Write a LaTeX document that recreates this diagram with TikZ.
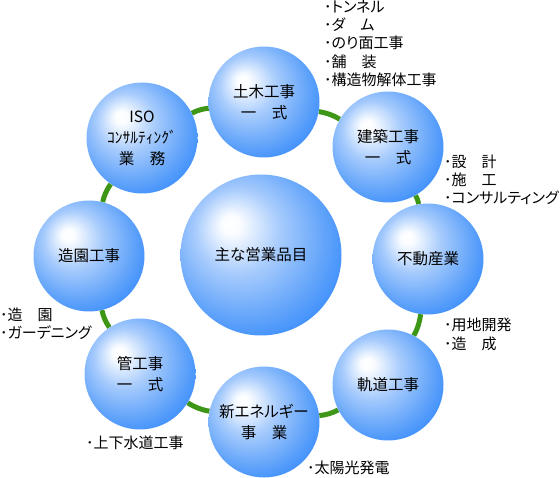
\documentclass[tikz,border=0pt]{standalone}
\usepackage{fontspec}
\setmainfont{Noto Sans CJK JP}[RawFeature=+palt]
\usepackage{xcolor}
\usepackage{tikz}
\usetikzlibrary{backgrounds}
\definecolor{ringgreen}{RGB}{62,150,22}
\pgfdeclareradialshading{bluesphere}{\pgfpoint{-10bp}{10bp}}{%
  rgb(0bp)=(1,1,1); rgb(3bp)=(0.98,0.99,1); rgb(13bp)=(0.66,0.8,0.99);
  rgb(25bp)=(0.38,0.64,0.98); rgb(38bp)=(0.1,0.48,1); rgb(50bp)=(0.1,0.48,1)}
\tikzset{
  bubble/.style={circle,shading=bluesphere,minimum size=111,inner sep=0,
    align=center,font=\fontsize{15.5}{21}\selectfont},
  hub/.style={bubble,minimum size=161},
  ring/.style={ringgreen,line width=5},
  note/.style={anchor=west,inner sep=0,align=left,
    font=\fontsize{15}{18.3}\selectfont}
}
\begin{document}
\begin{tikzpicture}[x=1pt,y=-1pt]
  \useasboundingbox (0,0) rectangle (560,478);
  \node[hub] (main) at (261,255) {主な営業品目};
  \node[bubble] (doboku) at (264,102) {土木工事\\一　式};
  \node[bubble] (kenchiku) at (388,147) {建築工事\\一　式};
  \node[bubble] (fudosan) at (428,259) {不動産業};
  \node[bubble] (kido) at (388,385) {軌道工事};
  \node[bubble] (shinene) at (264,422) {新エネルギー\\事　業};
  \node[bubble] (kan) at (140,374) {管工事\\一　式};
  \node[bubble] (zoen) at (89,256) {造園工事};
  \node[bubble] (iso) at (142,138) {ISO\\ｺﾝｻﾙﾃｨﾝｸﾞ\\業　務};

  \begin{scope}[on background layer]
    \draw[ring] (doboku) to[bend left=10] (kenchiku);
    \draw[ring] (kenchiku) to[bend left=10] (fudosan);
    \draw[ring] (fudosan) to[bend left=10] (kido);
    \draw[ring] (kido) to[bend left=10] (shinene);
    \draw[ring] (shinene) to[bend left=10] (kan);
    \draw[ring] (kan) to[bend left=10] (zoen);
    \draw[ring] (zoen) to[bend left=10] (iso);
    \draw[ring] (iso) to[bend left=10] (doboku);
  \end{scope}

  \node[note] (dobokunote) at (324,43.5) {･トンネル\\･ダ　ム\\･のり面工事\\･舗　装\\･構造物解体工事};
  \node[note] (kenchikunote) at (444,180) {･設　計\\･施　工\\･コンサルティング};
  \node[note] (fudosannote) at (444,334.5) {･用地開発\\･造　成};
  \node[note] (zoennote) at (0,324) {･造　園\\･ガーデニング};
  \node[note] (kannote) at (86,443) {･上下水道工事};
  \node[note] (shinenenote) at (307,468) {･太陽光発電};
\end{tikzpicture}
\end{document}
